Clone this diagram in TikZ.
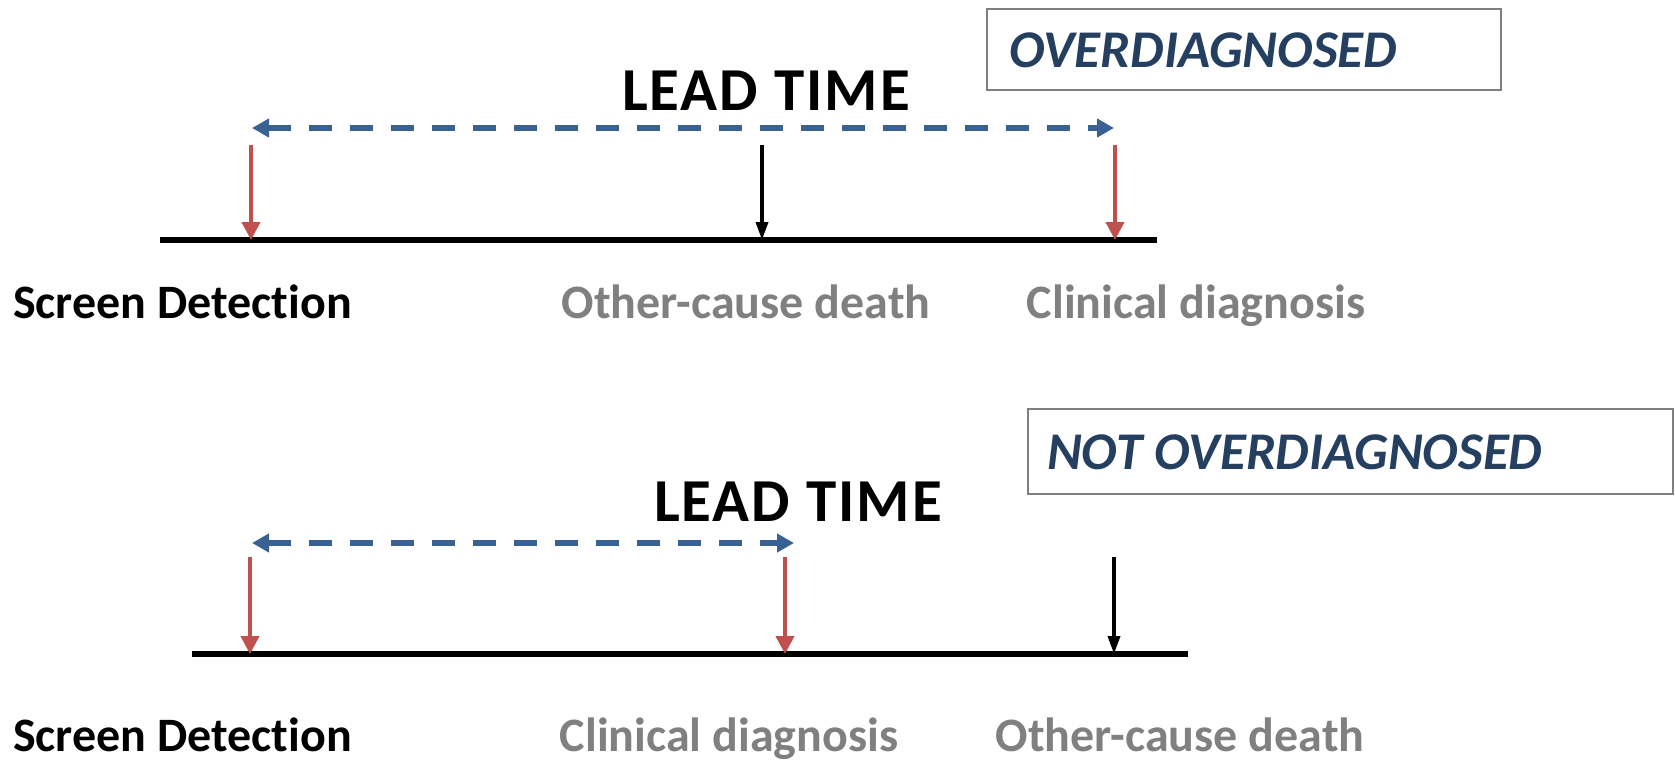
\documentclass[tikz,border=0pt]{standalone}
\usepackage{fontspec}
\setmainfont[Ligatures=NoCommon]{Carlito}
\usetikzlibrary{arrows.meta}
\definecolor{redA}{HTML}{C0504D}
\definecolor{blueA}{HTML}{3A6194}
\definecolor{navy}{HTML}{243F60}
\definecolor{grayT}{HTML}{808080}
\definecolor{boxgray}{HTML}{7F7F7F}
\begin{document}
\begin{tikzpicture}[x=1pt,y=-1pt,
  timeline/.style={line width=6pt},
  redarrow/.style={draw=redA,line width=4pt,-{Triangle[length=18pt,width=18pt]}},
  blackarrow/.style={draw=black,line width=3.5pt,-{Triangle[length=18pt,width=12pt]}},
  leadarrow/.style={draw=blueA,line width=6.5pt,dash pattern=on 23pt off 18pt,{Triangle[length=17pt,width=18pt]}-{Triangle[length=17pt,width=18pt]}},
  blacklabel/.style={font=\bfseries\fontsize{48}{52}\selectfont,text=black,inner sep=0pt,anchor=base west},
  graylabel/.style={font=\bfseries\fontsize{48}{52}\selectfont,text=grayT,inner sep=0pt,anchor=base},
  leadlabel/.style={font=\bfseries\fontsize{61}{64}\selectfont\addfontfeature{LetterSpace=3.3},inner sep=0pt},
  verdict/.style={draw=boxgray,line width=1.5pt,inner sep=0pt},
  verdicttext/.style={font=\bfseries\itshape\fontsize{53}{58}\selectfont,text=navy,inner sep=0pt,anchor=west}
]
\useasboundingbox (0,0) rectangle (1675,761);
% ---------- top ----------
\coordinate (t1l) at (160,240);
\coordinate (t1r) at (1157,240);
\draw[timeline] (t1l) -- (t1r);
\coordinate (a1t) at (251,145); \coordinate (a1b) at (251,240);
\coordinate (b1t) at (762,145); \coordinate (b1b) at (762,240);
\coordinate (c1t) at (1115,145); \coordinate (c1b) at (1115,240);
\draw[redarrow] (a1t) -- (a1b);
\draw[blackarrow] (b1t) -- (b1b);
\draw[redarrow] (c1t) -- (c1b);
\coordinate (l1a) at (252,128); \coordinate (l1b) at (1114,128);
\draw[leadarrow] (l1a) -- (l1b);
\node[leadlabel] (lead1) at (766,91) {LEAD TIME};
\node[blacklabel] (sd1) at (13,318) {Screen Detection};
\node[graylabel] (ocd1) at (746,318) {Other-cause death};
\node[graylabel] (cd1) at (1196,318) {Clinical diagnosis};
\draw[verdict] (987,9) rectangle (1501,90);
\node[verdicttext] (ov1) at (1009,50) {OVERDIAGNOSED};
% ---------- bottom ----------
\coordinate (t2l) at (192,654);
\coordinate (t2r) at (1188,654);
\draw[timeline] (t2l) -- (t2r);
\coordinate (a2t) at (250,557); \coordinate (a2b) at (250,654);
\coordinate (c2t) at (785,557); \coordinate (c2b) at (785,654);
\coordinate (b2t) at (1114,557); \coordinate (b2b) at (1114,654);
\draw[redarrow] (a2t) -- (a2b);
\draw[redarrow] (c2t) -- (c2b);
\draw[blackarrow] (b2t) -- (b2b);
\coordinate (l2a) at (252,543); \coordinate (l2b) at (794,543);
\draw[leadarrow] (l2a) -- (l2b);
\node[leadlabel] (lead2) at (798,502) {LEAD TIME};
\node[blacklabel] (sd2) at (13,751) {Screen Detection};
\node[graylabel] (cd2) at (729,751) {Clinical diagnosis};
\node[graylabel] (ocd2) at (1180,751) {Other-cause death};
\draw[verdict] (1028,409) rectangle (1673,494);
\node[verdicttext] (ov2) at (1047,452) {NOT OVERDIAGNOSED};
\end{tikzpicture}
\end{document}
